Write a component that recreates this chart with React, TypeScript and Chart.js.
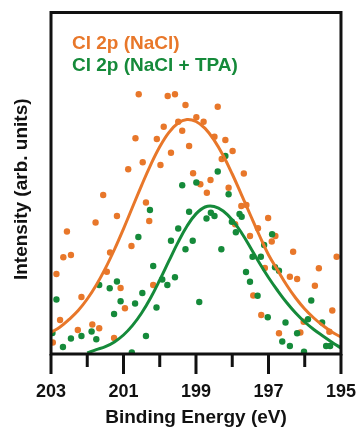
import React, { useEffect, useRef } from 'react';
import { Chart, registerables } from 'chart.js';

Chart.register(...registerables);

const ORANGE = '#E8772A';
const GREEN = '#158A3A';

const legendLabels = ['Cl 2p (NaCl)', 'Cl 2p (NaCl + TPA)'];
const xTitle = 'Binding Energy (eV)';
const yTitle = 'Intensity (arb. units)';
const majorTicks = [203, 201, 199, 197, 195];
const minorTicks = [202, 200, 198, 196];

const naclBE = [202.95, 202.85, 202.75, 202.66, 202.56, 202.45, 202.26, 202.16, 201.86, 201.77, 201.67, 201.56, 201.46, 201.37, 201.26, 201.18, 201.08, 200.96, 200.87, 200.78, 200.67, 200.58, 200.47, 200.38, 200.29, 200.18, 200.08, 199.98, 199.89, 199.78, 199.69, 199.58, 199.49, 199.38, 199.29, 199.19, 199.08, 198.99, 198.88, 198.79, 198.7, 198.6, 198.49, 198.4, 198.29, 198.19, 198.1, 197.99, 197.92, 197.75, 197.68, 197.61, 197.51, 197.42, 197.29, 197.2, 197.1, 197.01, 196.91, 196.81, 196.71, 196.41, 196.32, 196.21, 196.12, 196.03, 195.72, 195.61, 195.32, 195.24, 195.12];
const naclInt = [115, 800, 340, 967, 1225, 990, 240, 570, 295, 1315, 257, 1590, 823, 1015, 160, 1380, 660, 457, 1847, 1080, 2157, 2597, 1917, 1515, 1330, 690, 2150, 1890, 2273, 2580, 2013, 2597, 2323, 2233, 2490, 2080, 1807, 2367, 1697, 2323, 1613, 1740, 2173, 2473, 1950, 2140, 1663, 2030, 1297, 1480, 1805, 1490, 1180, 585, 1257, 390, 860, 1360, 1125, 1180, 207, 773, 1023, 750, 215, 323, 682, 857, 223, 435, 973];

const tpaBE = [202.96, 202.85, 202.67, 202.45, 202.16, 201.88, 201.75, 201.67, 201.38, 201.26, 201.18, 201.08, 200.77, 200.68, 200.59, 200.48, 200.38, 200.27, 200.18, 200.09, 199.93, 199.79, 199.69, 199.58, 199.49, 199.38, 199.29, 199.19, 199.09, 198.99, 198.91, 198.71, 198.59, 198.49, 198.4, 198.3, 198.19, 198.1, 198.01, 197.9, 197.8, 197.74, 197.62, 197.51, 197.44, 197.3, 197.21, 197.12, 197.02, 196.9, 196.82, 196.71, 196.62, 196.53, 196.41, 196.21, 196.02, 195.91, 195.82, 195.52, 195.41, 195.3];
const tpaInt = [210, 545, 70, 155, 180, 225, 147, 690, 657, 400, 725, 527, 15, 505, 1170, 610, 180, 1440, 880, 465, 745, 690, 1133, 767, 1255, 1687, 1048, 1423, 1133, 1715, 520, 1355, 1413, 1380, 1825, 1048, 1980, 1597, 1323, 1218, 1400, 1373, 820, 723, 973, 583, 973, 1090, 367, 1197, 867, 833, 125, 315, 80, 207, 23, 347, 535, 315, 80, 80];

const naclFitBE = [203, 202.75, 202.5, 202.25, 202, 201.75, 201.5, 201.25, 201, 200.75, 200.5, 200.25, 200, 199.75, 199.5, 199.25, 199, 198.75, 198.5, 198.25, 198, 197.75, 197.5, 197.25, 197, 196.75, 196.5, 196.25, 196, 195.75, 195.5, 195.25, 195];
const naclFit = [215, 270, 346, 435, 550, 690, 856, 1045, 1252, 1470, 1687, 1892, 2072, 2214, 2307, 2345, 2325, 2256, 2139, 1985, 1800, 1597, 1390, 1185, 993, 840, 690, 560, 450, 360, 285, 220, 170];

const tpaFitBE = [202, 201.75, 201.5, 201.25, 201, 200.75, 200.5, 200.25, 200, 199.75, 199.5, 199.25, 199, 198.75, 198.5, 198.25, 198, 197.75, 197.5, 197.25, 197, 196.75, 196.5, 196.25, 196, 195.75, 195.5, 195.25, 195];
const tpaFit = [10, 43, 74, 121, 190, 286, 410, 563, 740, 928, 1114, 1278, 1401, 1470, 1475, 1430, 1340, 1215, 1066, 910, 765, 635, 515, 410, 320, 245, 180, 118, 60];

const FONT = '"Liberation Sans", Arial, Helvetica, sans-serif';

const toXY = (xs: number[], ys: number[]) => xs.map((x, i) => ({ x, y: ys[i] }));

const framePlugin = {
  id: 'frameTicksLegend',
  afterDatasetsDraw(chart: any) {
    const { ctx, chartArea } = chart;
    const { left, right, top, bottom } = chartArea;
    const xs = chart.scales.x;
    ctx.save();
    ctx.strokeStyle = '#111';
    ctx.lineWidth = 3;
    ctx.strokeRect(left, top, right - left, bottom - top);
    ctx.lineCap = 'butt';
    majorTicks.forEach((v) => {
      const p = xs.getPixelForValue(v);
      ctx.beginPath();
      ctx.moveTo(p, bottom);
      ctx.lineTo(p, bottom + 20);
      ctx.stroke();
    });
    minorTicks.forEach((v) => {
      const p = xs.getPixelForValue(v);
      ctx.beginPath();
      ctx.moveTo(p, bottom);
      ctx.lineTo(p, bottom + 13);
      ctx.stroke();
    });
    ctx.font = `bold 19px ${FONT}`;
    ctx.textBaseline = 'alphabetic';
    ctx.textAlign = 'left';
    ctx.fillStyle = ORANGE;
    ctx.fillText(legendLabels[0], left + 21, top + 36);
    ctx.fillStyle = GREEN;
    ctx.fillText(legendLabels[1], left + 21, top + 58);
    // y-axis title, rotated
    ctx.translate(22, (top + bottom) / 2 + 6);
    ctx.rotate(-Math.PI / 2);
    ctx.textAlign = 'center';
    ctx.textBaseline = 'middle';
    ctx.fillStyle = '#111';
    ctx.fillText(yTitle, 0, 0);
    ctx.restore();
  },
};

export default function App() {
  const ref = useRef<HTMLCanvasElement>(null);
  useEffect(() => {
    document.body.style.margin = '0';
    const canvas = ref.current!;
    const chart = new Chart(canvas, {
      type: 'scatter',
      data: {
        datasets: [
          {
            label: legendLabels[0] + ' fit',
            data: toXY(naclFitBE, naclFit),
            showLine: true,
            borderColor: ORANGE,
            borderWidth: 3,
            pointRadius: 0,
            tension: 0.4,
            order: 0,
          },
          {
            label: legendLabels[1] + ' fit',
            data: toXY(tpaFitBE, tpaFit),
            showLine: true,
            borderColor: GREEN,
            borderWidth: 3,
            pointRadius: 0,
            tension: 0.4,
            order: 0,
          },
          {
            label: legendLabels[1],
            data: toXY(tpaBE, tpaInt),
            backgroundColor: GREEN,
            borderWidth: 0,
            pointRadius: 3.2,
            order: 1,
          },
          {
            label: legendLabels[0],
            data: toXY(naclBE, naclInt),
            backgroundColor: ORANGE,
            borderWidth: 0,
            pointRadius: 3.2,
            order: 1,
          },
        ],
      },
      options: {
        animation: false,
        responsive: false,
        devicePixelRatio: 1,
        layout: { padding: { top: 12.5, right: 19, left: 0, bottom: 0 } },
        plugins: { legend: { display: false }, tooltip: { enabled: false } },
        scales: {
          x: {
            type: 'linear',
            reverse: true,
            min: 195,
            max: 203,
            afterFit: (s: any) => { s.height = 75; },
            grid: { display: false, drawTicks: true, tickLength: 20 },
            border: { display: false },
            ticks: {
              stepSize: 2,
              autoSkip: false,
              maxRotation: 0,
              padding: 7,
              color: '#111',
              font: { family: FONT, size: 18, weight: 'bold' },
            },
            title: {
              display: true,
              text: xTitle,
              color: '#111',
              padding: { top: 0, bottom: 0 },
              font: { family: FONT, size: 19, weight: 'bold' },
            },
          },
          y: {
            type: 'linear',
            min: 0,
            max: 3415,
            afterFit: (s: any) => { s.width = 51; },
            grid: { display: false, drawTicks: false },
            border: { display: false },
            ticks: { display: false },
            title: { display: false },
          },
        },
      },
      plugins: [framePlugin],
    } as any);
    return () => chart.destroy();
  }, []);
  return (
    <div style={{ width: 363, height: 429 }}>
      <canvas ref={ref} width={363} height={429} style={{ display: 'block' }} />
    </div>
  );
}
